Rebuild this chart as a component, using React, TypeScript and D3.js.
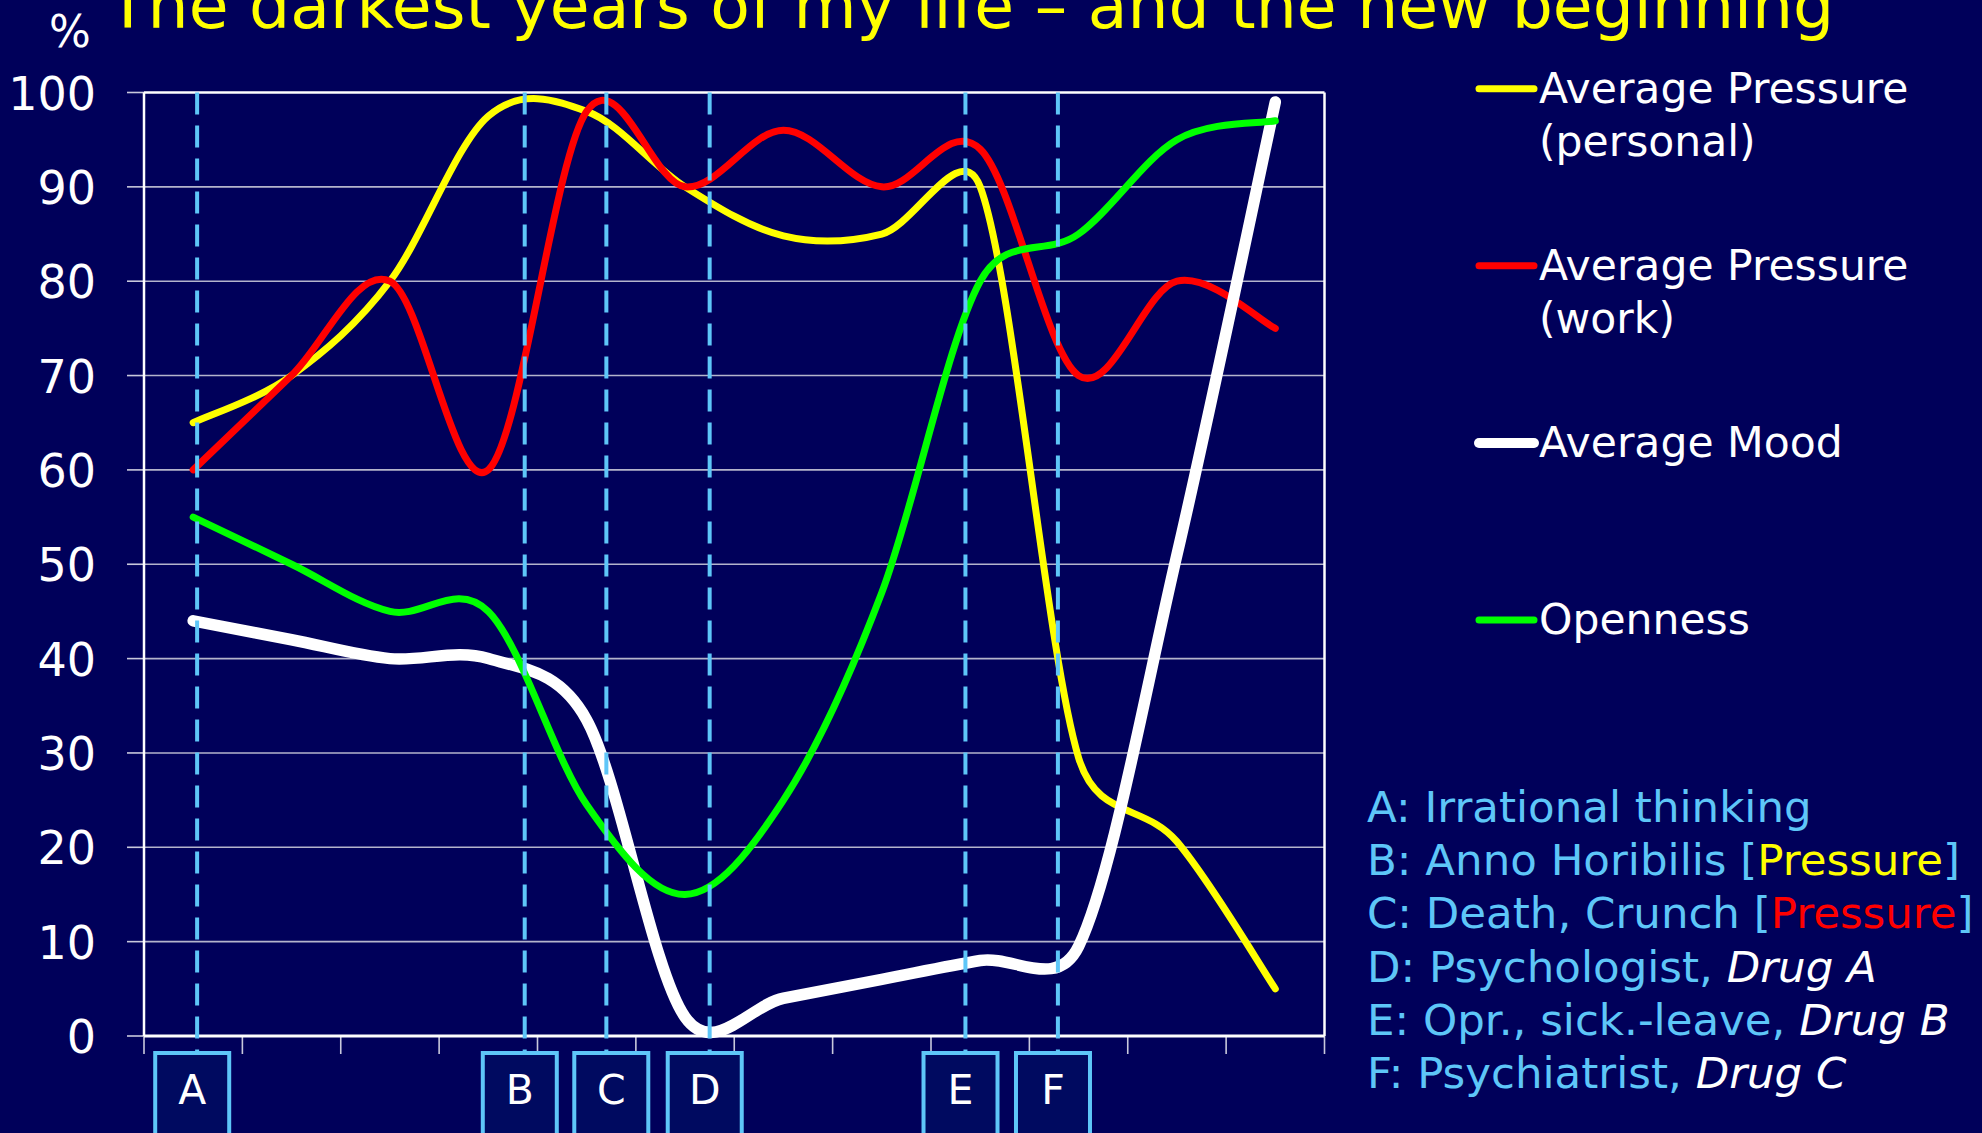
import React from 'react';
import * as d3 from 'd3';

// ---------- data ----------
const periods = ['P1', 'P2', 'P3', 'P4', 'P5', 'P6', 'P7', 'P8', 'P9', 'P10', 'P11', 'P12'];
const pressurePersonal = [65, 70, 80, 97.5, 98, 90, 84.8, 85, 90, 29.5, 20.6, 5];
const pressureWork = [60, 70, 80, 60, 98, 90, 96, 90, 94, 70, 80, 75];
const mood = [44, 42, 40, 40, 33.5, 2, 4, 6, 8, 9.5, 51, 99];
const openness = [55, 50, 45, 45, 24.5, 15, 25, 47, 80, 85, 95, 97];
const yTicks = [0, 10, 20, 30, 40, 50, 60, 70, 80, 90, 100];

const seriesNames = ['Average Pressure|(personal)', 'Average Pressure|(work)', 'Average Mood', 'Openness'];
const seriesColors = ['#FFFF00', '#FF0000', '#FFFFFF', '#00FF00'];

// events, in period units along the time axis
const eventLetters = ['A', 'B', 'C', 'D', 'E', 'F'];
const eventTimes = [0.54, 3.87, 4.7, 5.75, 8.35, 9.29];
const eventLabelTimes = [0.49, 3.82, 4.75, 5.7, 8.3, 9.24];

const noteLines = [
  [{ t: 'A: Irrational thinking', c: 'blue' }],
  [{ t: 'B: Anno Horibilis [', c: 'blue' }, { t: 'Pressure', c: 'yellow' }, { t: ']', c: 'blue' }],
  [{ t: 'C: Death, Crunch [', c: 'blue' }, { t: 'Pressure', c: 'red' }, { t: ']', c: 'blue' }],
  [{ t: 'D: Psychologist, ', c: 'blue' }, { t: 'Drug A', c: 'white', i: true }],
  [{ t: 'E: Opr., sick.-leave, ', c: 'blue' }, { t: 'Drug B', c: 'white', i: true }],
  [{ t: 'F: Psychiatrist, ', c: 'blue' }, { t: 'Drug C', c: 'white', i: true }],
];

const title = 'The darkest years of my life \u2013 and the new beginning';

// ---------- Excel-like smoothing curve ----------
class ExcelSmooth {
  _ctx: any;
  _pts: number[][] = [];
  constructor(ctx: any) {
    this._ctx = ctx;
  }
  areaStart() {}
  areaEnd() {}
  lineStart() {
    this._pts = [];
  }
  point(x: number, y: number) {
    this._pts.push([+x, +y]);
  }
  lineEnd() {
    const p = this._pts;
    const c = this._ctx;
    const n = p.length;
    if (!n) return;
    c.moveTo(p[0][0], p[0][1]);
    const d = (a: number[], b: number[]) => Math.hypot(a[0] - b[0], a[1] - b[1]);
    for (let i = 0; i < n - 1; i++) {
      const p0 = p[Math.max(0, i - 1)];
      const p1 = p[i];
      const p2 = p[i + 1];
      const p3 = p[Math.min(n - 1, i + 2)];
      const d02 = d(p0, p2);
      const d12 = d(p1, p2);
      const d13 = d(p1, p3);
      let f0 = 1 / 6;
      let f1 = 1 / 6;
      if (d02 > 0 && d02 / 6 >= d12 / 2) f0 = d12 / d02 / 2;
      if (d13 > 0 && d13 / 6 >= d12 / 2) f1 = d12 / d13 / 2;
      c.bezierCurveTo(
        p1[0] + (p2[0] - p0[0]) * f0,
        p1[1] + (p2[1] - p0[1]) * f0,
        p2[0] - (p3[0] - p1[0]) * f1,
        p2[1] - (p3[1] - p1[1]) * f1,
        p2[0],
        p2[1]
      );
    }
  }
}
const excelCurve = (ctx: any) => new ExcelSmooth(ctx);

// ---------- layout ----------
const W = 1982;
const H = 1133;
const BG = '#00005A';
const LIGHT = '#5EC6F8';
const FONT = '"DejaVu Sans", Verdana, sans-serif';
const plot = { left: 144, right: 1324.5, top: 92.5, bottom: 1036 };

export default function App() {
  const x = d3.scaleLinear().domain([0, periods.length]).range([plot.left, plot.right]);
  const y = d3.scaleLinear().domain([0, 100]).range([plot.bottom, plot.top]);
  const cx = (i: number) => x(i + 0.5);

  const line = d3
    .line<number>()
    .x((_, i) => cx(i))
    .y((v) => y(v))
    .curve(excelCurve as any);

  const series = [pressurePersonal, pressureWork, mood, openness];
  const widths = [7, 7, 11.5, 7];
  const xTicks = d3.range(periods.length + 1);

  const noteColor = (c: string) =>
    c === 'blue' ? LIGHT : c === 'yellow' ? '#FFFF00' : c === 'red' ? '#FF0000' : '#FFFFFF';

  const legendY = [88.7, 265.7, 443, 620];

  return (
    <div style={{ position: 'fixed', left: 0, top: 0, width: W, height: H, background: BG }}>
      <svg width={W} height={H} style={{ display: 'block' }} fontFamily={FONT}>
        <rect x={0} y={0} width={W} height={H} fill={BG} />

        {/* title */}
        <text x={108} y={28} fill="#FFFF00" fontSize={64.8}>
          {title}
        </text>
        <text x={70} y={47} fill="#FFFFFF" fontSize={44} textAnchor="middle">
          %
        </text>

        {/* grid */}
        {yTicks.map((t) => (
          <g key={'g' + t}>
            {t > 0 && t < 100 && (
              <line x1={plot.left} x2={plot.right} y1={y(t)} y2={y(t)} stroke="#B4B4CC" strokeWidth={1.6} />
            )}
            <line x1={plot.left - 17} x2={plot.left} y1={y(t)} y2={y(t)} stroke="#C8C8DC" strokeWidth={1.6} />
            <text x={96} y={y(t) + 17} fill="#FFFFFF" fontSize={46} textAnchor="end">
              {t}
            </text>
          </g>
        ))}
        {xTicks.map((t) => (
          <line key={'xt' + t} x1={x(t)} x2={x(t)} y1={plot.bottom} y2={plot.bottom + 18} stroke="#C8C8DC" strokeWidth={1.6} />
        ))}
        {/* frame */}
        <line x1={plot.left} x2={plot.right} y1={plot.top} y2={plot.top} stroke="#FFFFFF" strokeWidth={2.5} />
        <line x1={plot.left} x2={plot.right} y1={plot.bottom} y2={plot.bottom} stroke="#FFFFFF" strokeWidth={3} />
        <line x1={plot.left} x2={plot.left} y1={plot.top} y2={plot.bottom} stroke="#FFFFFF" strokeWidth={2.5} />
        <line x1={plot.right} x2={plot.right} y1={plot.top} y2={plot.bottom} stroke="#FFFFFF" strokeWidth={2.5} />

        {/* series */}
        {series.map((s, k) => (
          <path
            key={'s' + k}
            d={line(s) || ''}
            fill="none"
            stroke={seriesColors[k]}
            strokeWidth={widths[k]}
            strokeLinecap="round"
            strokeLinejoin="round"
          />
        ))}

        {/* event markers */}
        {eventTimes.map((t, k) => {
          const ex = x(t);
          const bx = x(eventLabelTimes[k]);
          return (
            <g key={'e' + k}>
              <line
                x1={ex}
                x2={ex}
                y1={plot.top}
                y2={1053}
                stroke={LIGHT}
                strokeWidth={4}
                strokeDasharray="22 11"
              />
              <rect x={bx - 37} y={1053} width={74} height={100} fill="#000A60" stroke={LIGHT} strokeWidth={4} />
              <text x={bx} y={1104} fill="#FFFFFF" fontSize={41} textAnchor="middle">
                {eventLetters[k]}
              </text>
            </g>
          );
        })}

        {/* legend */}
        {seriesNames.map((name, k) => {
          const parts = name.split('|');
          const ly = legendY[k];
          return (
            <g key={'l' + k}>
              <line
                x1={1479}
                x2={1534}
                y1={ly}
                y2={ly}
                stroke={seriesColors[k]}
                strokeWidth={k === 2 ? 10 : 7}
                strokeLinecap="round"
              />
              {parts.map((p, j) => (
                <text key={j} x={1539} y={ly + 14 + j * 53} fill="#FFFFFF" fontSize={42.5}>
                  {p}
                </text>
              ))}
            </g>
          );
        })}

        {/* notes */}
        {noteLines.map((row, r) => (
          <text key={'n' + r} x={1367} y={821.7 + r * 53.3} fontSize={43.5} xmlSpace="preserve">
            {row.map((seg: any, j) => (
              <tspan key={j} fill={noteColor(seg.c)} fontStyle={seg.i ? 'italic' : 'normal'}>
                {seg.t}
              </tspan>
            ))}
          </text>
        ))}
      </svg>
    </div>
  );
}
